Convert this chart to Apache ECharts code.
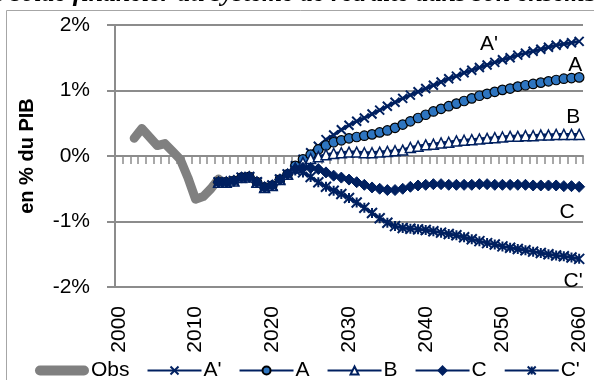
<!DOCTYPE html>
<html><head><meta charset="utf-8">
<script src="https://cdn.jsdelivr.net/npm/echarts@6/dist/echarts.min.js"></script>
<style>html,body{margin:0;padding:0;background:#fff}#c{width:594px;height:380px}</style>
</head><body><div id="c"></div>
<script>
const years = ['2000','2001','2002','2003','2004','2005','2006','2007','2008','2009','2010',
'2011','2012','2013','2014','2015','2016','2017','2018','2019','2020',
'2021','2022','2023','2024','2025','2026','2027','2028','2029','2030',
'2031','2032','2033','2034','2035','2036','2037','2038','2039','2040',
'2041','2042','2043','2044','2045','2046','2047','2048','2049','2050',
'2051','2052','2053','2054','2055','2056','2057','2058','2059','2060'];

// Observed 2002-2013
const obsStart = '2002';
const obsValues = [0.27,0.42,0.29,0.16,0.19,0.07,-0.05,-0.33,-0.66,-0.62,-0.50,-0.35];

// Common path of all scenarios, 2013-2022
const commonStart = '2013';
const commonValues = [-0.40,-0.40,-0.38,-0.33,-0.32,-0.40,-0.48,-0.45,-0.36,-0.28];

// Scenarios 2023-2060
const scenStart = '2023';
const aPrimeValues = [-0.15,-0.05,0.05,0.15,0.25,0.32,0.40,0.47,0.53,0.58,0.64,0.70,0.76,0.82,0.88,0.93,0.98,1.03,1.08,1.13,1.18,1.22,1.27,1.31,1.35,1.39,1.43,1.47,1.50,1.54,1.57,1.60,1.63,1.66,1.69,1.71,1.73,1.75];
const aValues = [-0.15,-0.05,0.02,0.10,0.16,0.21,0.24,0.27,0.29,0.31,0.33,0.36,0.39,0.43,0.48,0.53,0.58,0.63,0.68,0.72,0.76,0.80,0.84,0.88,0.92,0.95,0.98,1.01,1.03,1.06,1.08,1.10,1.12,1.14,1.16,1.18,1.19,1.20];
const bValues = [-0.18,-0.10,-0.04,-0.01,0.02,0.04,0.05,0.06,0.06,0.05,0.05,0.06,0.07,0.08,0.09,0.13,0.15,0.17,0.18,0.20,0.21,0.23,0.24,0.25,0.26,0.27,0.28,0.29,0.30,0.30,0.31,0.31,0.32,0.32,0.33,0.33,0.33,0.33];
const cValues = [-0.20,-0.18,-0.18,-0.20,-0.25,-0.30,-0.33,-0.36,-0.40,-0.44,-0.48,-0.50,-0.52,-0.52,-0.50,-0.47,-0.45,-0.44,-0.43,-0.43,-0.44,-0.44,-0.44,-0.44,-0.43,-0.43,-0.44,-0.44,-0.44,-0.44,-0.44,-0.45,-0.45,-0.45,-0.45,-0.46,-0.46,-0.47];
const cPrimeValues = [-0.22,-0.25,-0.32,-0.40,-0.47,-0.53,-0.58,-0.64,-0.71,-0.79,-0.87,-0.95,-1.02,-1.07,-1.10,-1.11,-1.12,-1.13,-1.15,-1.17,-1.19,-1.21,-1.24,-1.27,-1.30,-1.33,-1.35,-1.38,-1.40,-1.42,-1.44,-1.46,-1.48,-1.50,-1.52,-1.53,-1.55,-1.57];

const seriesNames = ['Obs', "A'", 'A', 'B', 'C', "C'"];
const titleText = 'Le solde financier du système de retraite dans son ensemble';

function place(start, vals, arr) {
  const i0 = years.indexOf(start);
  vals.forEach((v, k) => { arr[i0 + k] = v; });
  return arr;
}
function scen(vals) {
  const arr = years.map(() => null);
  place(commonStart, commonValues, arr);
  place(scenStart, vals, arr);
  return arr;
}
const font = 'Liberation Sans';
function withLabel(arr, year, text, offset) {
  const i = years.indexOf(year);
  arr[i] = { value: arr[i], label: { show: true, formatter: text, position: 'inside', offset: offset,
    color: '#000', fontSize: 21, fontFamily: font } };
  return arr;
}

const NAVY = '#002060';
const obsData = place(obsStart, obsValues, years.map(() => null));
const aPrimeData = withLabel(scen(aPrimeValues), '2048', "A'", [2, -21]);
const aData = withLabel(scen(aValues), '2060', 'A', [-4, -12]);
const bData = withLabel(scen(bValues), '2060', 'B', [-6, -17]);
const cData = withLabel(scen(cValues), '2060', 'C', [-12, 25]);
const cPrimeData = withLabel(scen(cPrimeValues), '2060', "C'", [-6, 22]);

const baseLine = { type: 'line', xAxisIndex: 0, yAxisIndex: 0, connectNulls: false, animation: false,
  showSymbol: true, showAllSymbol: true, lineStyle: { color: NAVY, width: 3 }, z: 3 };

const option = {
  backgroundColor: '#fff',
  animation: false,
  title: { text: titleText, left: 'center', top: -24, z: 10,
    textStyle: { fontFamily: 'Liberation Serif', fontStyle: 'italic', fontWeight: 'bold', fontSize: 26, color: '#000' } },
  graphic: [{ type: 'rect', shape: { x: 6.5, y: 10.5, width: 700, height: 500 }, style: { fill: 'none', stroke: '#a6a6a6', lineWidth: 1 }, silent: true, z: -1 }],
  grid: { left: 115, right: 11, top: 25, bottom: 93 },
  legend: {
    top: 355, left: 30, itemGap: 17, itemWidth: 54, itemHeight: 10,
    data: [
      { name: 'Obs', icon: 'path://M5,0L49,0A5,5,0,0,1,49,10L5,10A5,5,0,0,1,5,0Z', itemStyle: { color: '#808080' } },
      "A'", 'A', 'B', 'C', "C'"
    ],
    textStyle: { fontFamily: font, fontSize: 21, color: '#000', padding: [0, 0, 0, -3] }
  },
  xAxis: [
    { type: 'category', data: years, boundaryGap: true, position: 'bottom',
      axisLine: { show: false, onZero: false }, axisTick: { show: false },
      axisLabel: { interval: 9, rotate: 90, fontFamily: font, fontSize: 21, color: '#000', margin: 19, padding: [6, 0, 0, 0] } },
    { type: 'category', data: years, boundaryGap: true, position: 'bottom',
      axisLine: { show: true, onZero: true, lineStyle: { color: '#8c8c8c', width: 2 } },
      axisTick: { show: true, interval: 0, length: 8, lineStyle: { color: '#8c8c8c', width: 1.5 } },
      axisLabel: { show: false } }
  ],
  yAxis: {
    type: 'value', min: -2, max: 2, interval: 1,
    name: 'en % du PIB', nameLocation: 'middle', nameGap: 78, nameRotate: 90,
    nameTextStyle: { fontFamily: font, fontSize: 20, fontWeight: 'bold', color: '#000' },
    axisLine: { show: true, lineStyle: { color: '#8c8c8c', width: 2 } },
    axisTick: { show: true, length: 8, lineStyle: { color: '#8c8c8c', width: 2 } },
    axisLabel: { formatter: v => v + '%', fontFamily: font, fontSize: 21, color: '#000', margin: 25 },
    splitLine: { show: true, lineStyle: { color: '#8c8c8c', width: 2 } }
  },
  series: [
    { name: 'Obs', type: 'line', data: obsData, showSymbol: false, symbol: 'none', animation: false,
      lineStyle: { color: '#808080', width: 9, cap: 'round', join: 'round' }, itemStyle: { color: '#808080' }, z: 2 },
    Object.assign({}, baseLine, { name: "A'", data: aPrimeData,
      symbol: 'path://M0,0L10,10M10,0L0,10', symbolSize: 9,
      itemStyle: { color: NAVY, borderColor: NAVY, borderWidth: 2 } }),
    Object.assign({}, baseLine, { name: 'A', data: aData, symbol: 'circle', symbolSize: 9.5,
      itemStyle: { color: '#2e75c0', borderColor: '#000', borderWidth: 1.2 } }),
    Object.assign({}, baseLine, { name: 'B', data: bData, symbol: 'triangle', symbolSize: 10,
      itemStyle: { color: '#fff', borderColor: NAVY, borderWidth: 1.5 } }),
    Object.assign({}, baseLine, { name: 'C', data: cData, symbol: 'diamond', symbolSize: 11,
      itemStyle: { color: NAVY, borderColor: NAVY, borderWidth: 1 } }),
    Object.assign({}, baseLine, { name: "C'", data: cPrimeData,
      symbol: 'path://M0,0L10,10M10,0L0,10M5,0L5,10', symbolSize: 10,
      itemStyle: { color: NAVY, borderColor: NAVY, borderWidth: 2 } })
  ]
};
const chart = echarts.init(document.getElementById('c'), null, { renderer: 'canvas' });
chart.setOption(option);
</script></body></html>
